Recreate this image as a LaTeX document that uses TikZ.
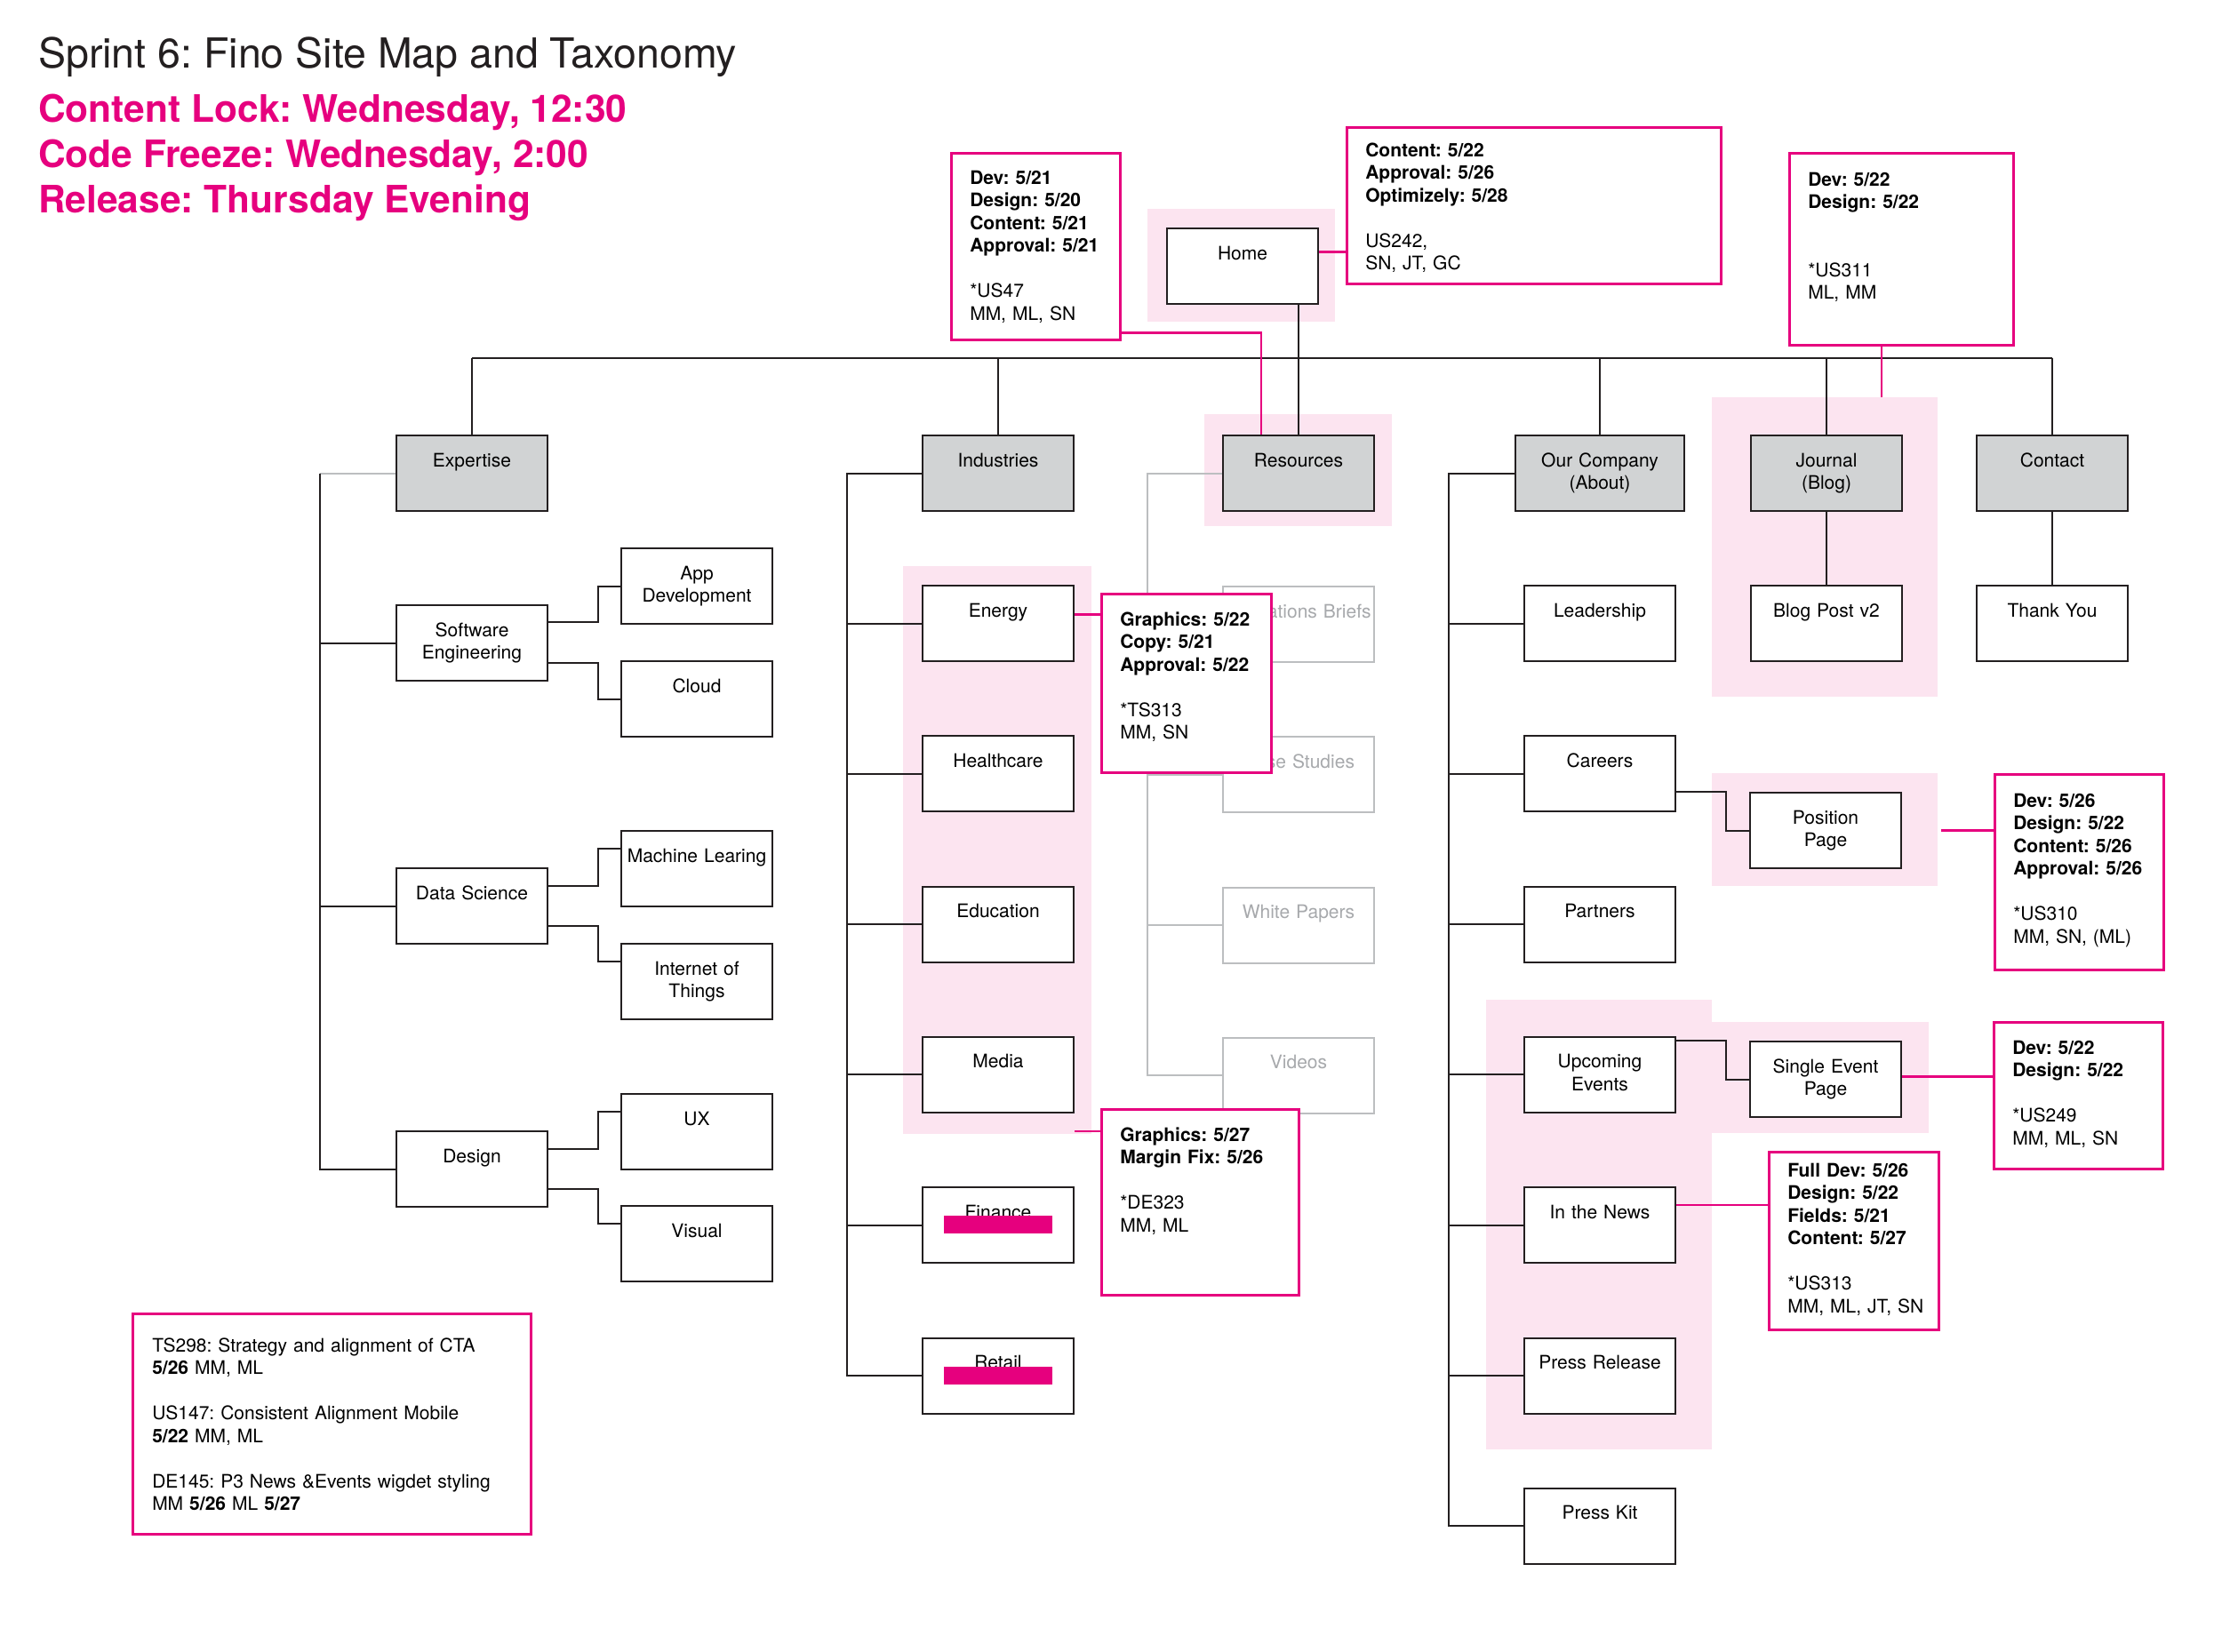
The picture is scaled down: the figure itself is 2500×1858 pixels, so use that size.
\documentclass[tikz,border=0pt]{standalone}
\usepackage{fontspec}
\setmainfont{TeX Gyre Heros}
\usetikzlibrary{positioning, calc}
\usepackage{xcolor}
\frenchspacing

\definecolor{pinkc}{RGB}{230,0,126}
\definecolor{pinkbg}{RGB}{252,228,240}
\definecolor{topfill}{RGB}{209,211,212}
\definecolor{linec}{RGB}{35,31,32}
\definecolor{ghostc}{RGB}{188,190,192}
\definecolor{ghostt}{RGB}{167,169,172}

\newcommand{\pagefont}{\fontsize{21}{25.5}\selectfont}

\begin{document}
\begin{tikzpicture}[
    x=1pt, y=-1pt,
    node distance=82.3pt,
    page/.style={draw=linec, line width=2pt, fill=white, anchor=north west, text width=170pt, align=center, inner sep=0pt, text height=35pt, text depth=50pt, font=\pagefont},
    topbox/.style={page, fill=topfill},
    ghost/.style={page, draw=ghostc, text=ghostt},
    note/.style={draw=pinkc, line width=2.5pt, fill=white, anchor=north west, align=left, inner sep=0pt, inner xsep=21pt, text height=35pt, font=\pagefont},
    deadline/.style={anchor=base west, inner sep=0pt, text=pinkc, font=\fontsize{42.5}{48}\selectfont\bfseries},
    wire/.style={draw=linec, line width=2pt},
    greywire/.style={draw=ghostc, line width=2pt},
    pinkwire/.style={draw=pinkc, line width=2.5pt},
    shade/.style={fill=pinkbg},
    strike/.style={fill=pinkc}
]
\useasboundingbox (0,0) rectangle (2500,1858);

% highlighted areas
\fill[shade] (1291,235) rectangle (1502,362);
\fill[shade] (1355,466) rectangle (1566,592);
\fill[shade] (1926,447) rectangle (2180,784);
\fill[shade] (1016,637) rectangle (1228,1276);
\fill[shade] (1926,870) rectangle (2180,997);
\fill[shade] (1672,1125) rectangle (1926,1631);
\fill[shade] (1926,1150) rectangle (2170,1275);

% heading
\node[anchor=base west, inner sep=0pt, text=linec, font=\fontsize{46.5}{52}\selectfont] (title) at (43,76) {Sprint 6: Fino Site Map and Taxonomy};
\node[deadline] (lock) at (43,137) {Content Lock: Wednesday, 12:30};
\node[deadline] (freeze) at (43,188) {Code Freeze: Wednesday, 2:00};
\node[deadline] (release) at (43,239) {Release: Thursday Evening};

% top level
\node[page] (home) at (1312,256) {Home};
\node[topbox] (expertise) at (445,489) {Expertise};
\node[topbox] (industries) at (1037,489) {Industries};
\node[topbox] (resources) at (1375,489) {Resources};
\node[topbox, text width=190pt] (company) at (1704,489) {Our Company\\(About)};
\node[topbox] (journal) at (1969,489) {Journal\\(Blog)};
\node[topbox] (contact) at (2223,489) {Contact};

% expertise
\node[page] (softeng) at (445,680) {Software\\Engineering};
\node[page] (datasci) at (445,976) {Data Science};
\node[page] (design) at (445,1272) {Design};
\node[page] (appdev) at (698,616) {App\\Development};
\node[page] (cloud) at (698,743) {Cloud};
\node[page] (ml) at (698,934) {Machine Learing};
\node[page] (iot) at (698,1061) {Internet of\\Things};
\node[page] (ux) at (698,1230) {UX};
\node[page] (visual) at (698,1356) {Visual};

% industries
\node[page] (energy) at (1037,658) {Energy};
\node[page, below=of energy] (health) {Healthcare};
\node[page, below=of health] (edu) {Education};
\node[page, below=of edu] (media) {Media};
\node[page, below=of media] (finance) {Finance};
\node[page, below=of finance] (retail) {Retail};
\fill[strike] ($(finance.north)+(-61,33)$) rectangle ++(122,20);
\fill[strike] ($(retail.north)+(-61,33)$) rectangle ++(122,20);

% resources
\node[ghost] (briefs) at (1375,659) {Operations Briefs};
\node[ghost, below=of briefs] (cases) {Case Studies};
\node[ghost, below=of cases] (papers) {White Papers};
\node[ghost, below=of papers] (videos) {Videos};

% our company
\node[page] (leader) at (1714,658) {Leadership};
\node[page, below=of leader] (careers) {Careers};
\node[page, below=of careers] (partners) {Partners};
\node[page, below=of partners] (events) {Upcoming\\Events};
\node[page, below=of events] (news) {In the News};
\node[page, below=of news] (pressrel) {Press Release};
\node[page, below=of pressrel] (presskit) {Press Kit};
\node[page] (position) at (1968,891) {Position\\Page};
\node[page] (single) at (1968,1171) {Single Event\\Page};

% journal, contact
\node[page] (blogpost) at (1969,658) {Blog Post v2};
\node[page] (thanks) at (2223,658) {Thank You};

% tree lines
\coordinate (bus) at (0,403);
\draw[wire] (expertise.north |- bus) -- (contact.north |- bus);
\foreach \n in {expertise, industries, company, journal, contact}
    \draw[wire] (\n.north) -- (\n.north |- bus);
\draw[wire] (home.south -| resources.north) -- (resources.north);

\draw[greywire] (expertise.west) -- ++(-85,0) coordinate (exptrunk);
\draw[wire] (exptrunk) |- (design.west);
\foreach \n in {softeng, datasci}
    \draw[wire] (exptrunk |- \n.west) -- (\n.west);
\draw[wire] ([yshift=-20pt]softeng.north east) -- ++(56,0) |- (appdev.west);
\draw[wire] ([yshift=21pt]softeng.south east) -- ++(56,0) |- (cloud.west);
\draw[wire] ([yshift=-21pt]datasci.north east) -- ++(56,0) |- ([yshift=-21pt]ml.north west);
\draw[wire] ([yshift=21pt]datasci.south east) -- ++(56,0) |- ([yshift=-21pt]iot.north west);
\draw[wire] ([yshift=-21pt]design.north east) -- ++(56,0) |- ([yshift=-21pt]ux.north west);
\draw[wire] ([yshift=21pt]design.south east) -- ++(56,0) |- ([yshift=-21pt]visual.north west);

\draw[wire] (industries.west) -- ++(-84,0) coordinate (indtrunk) |- (retail.west);
\foreach \n in {energy, health, edu, media, finance}
    \draw[wire] (indtrunk |- \n.west) -- (\n.west);

\draw[greywire] (resources.west) -- ++(-84,0) coordinate (restrunk) |- (videos.west);
\foreach \n in {briefs, cases, papers}
    \draw[greywire] (restrunk |- \n.west) -- (\n.west);

\draw[wire] (company.west) -- ++(-74,0) coordinate (comtrunk) |- (presskit.west);
\foreach \n in {leader, careers, partners, events, news, pressrel}
    \draw[wire] (comtrunk |- \n.west) -- (\n.west);
\draw[wire] (careers.east |- position.north) -- ++(56,0) |- (position.west);
\draw[wire] (events.east |- single.north) -- ++(56,0) |- (single.west);

\draw[wire] (journal) -- (blogpost);
\draw[wire] (contact) -- (thanks);

% notes
\node[note, text width=148pt, text depth=175pt] (devhome) at (1069,171) {\textbf{Dev:~5/21}\\\textbf{Design:~5/20}\\\textbf{Content:~5/21}\\\textbf{Approval:~5/21}\\[25.5pt]{*}US47\\MM,~ML,~SN};
\node[note, text width=379pt, text height=33pt, text depth=143pt] (contenthome) at (1514,142) {\textbf{Content:~5/22}\\\textbf{Approval:~5/26}\\\textbf{Optimizely:~5/28}\\[25.5pt]US242,\\SN,~JT,~GC};
\node[note, text width=210pt, text height=37pt, text depth=179pt] (devblog) at (2012,171) {\textbf{Dev:~5/22}\\\textbf{Design:~5/22}\\[51pt]{*}US311\\ML,~MM};
\node[note, text width=149pt, text height=36pt, text depth=165pt] (gfxenergy) at (1238,667) {\textbf{Graphics:~5/22}\\\textbf{Copy:~5/21}\\\textbf{Approval:~5/22}\\[25.5pt]{*}TS313\\MM,~SN};
\node[note, text width=180pt, text height=36pt, text depth=173pt] (gfxmedia) at (1238,1247) {\textbf{Graphics:~5/27}\\\textbf{Margin~Fix:~5/26}\\[25.5pt]{*}DE323\\MM,~ML};
\node[note, text width=148pt, text height=37pt, text depth=183pt] (devposition) at (2243,870) {\textbf{Dev:~5/26}\\\textbf{Design:~5/22}\\\textbf{Content:~5/26}\\\textbf{Approval:~5/26}\\[25.5pt]{*}US310\\MM,~SN,~(ML)};
\node[note, text width=148pt, text height=36pt, text depth=129pt] (devevent) at (2242,1149) {\textbf{Dev:~5/22}\\\textbf{Design:~5/22}\\[25.5pt]{*}US249\\MM,~ML,~SN};
\node[note, text width=149pt, text height=28pt, text depth=172pt] (devnews) at (1989,1295) {\textbf{Full~Dev:~5/26}\\\textbf{Design:~5/22}\\\textbf{Fields:~5/21}\\\textbf{Content:~5/27}\\[25.5pt]{*}US313\\MM,~ML,~JT,~SN};
\node[note, text width=404pt, inner xsep=22pt, text height=43pt, text depth=205pt] (backlog) at (148,1477) {TS298: Strategy and alignment of CTA\\\textbf{5/26} MM, ML\\[25.5pt]US147: Consistent Alignment Mobile\\\textbf{5/22} MM, ML\\[25.5pt]DE145: P3 News \&Events wigdet styling\\MM \textbf{5/26} ML \textbf{5/27}};

% note links
\draw[pinkwire] ([yshift=9pt]devhome.south east) -| ([xshift=-42pt]resources.north);
\draw[pinkwire] ([yshift=16pt]home.east) coordinate (h1) -- (h1 -| contenthome.west);
\coordinate (jtop) at (2117,447);
\draw[pinkwire] (jtop |- devblog.south) -- (jtop);
\draw[pinkwire] ([yshift=10pt]energy.east) coordinate (e1) -- (e1 -| gfxenergy.west);
\draw[pinkwire] ([yshift=-20pt]media.south east) coordinate (m1) -- (m1 -| gfxmedia.west);
\draw[pinkwire] ([xshift=44pt]position.east) -- (position.east -| devposition.west);
\draw[pinkwire] ([yshift=3pt]single.east) coordinate (s1) -- (s1 -| devevent.west);
\draw[pinkwire] ([yshift=-21pt]news.north east) coordinate (n1) -- (n1 -| devnews.west);

\end{tikzpicture}
\end{document}
